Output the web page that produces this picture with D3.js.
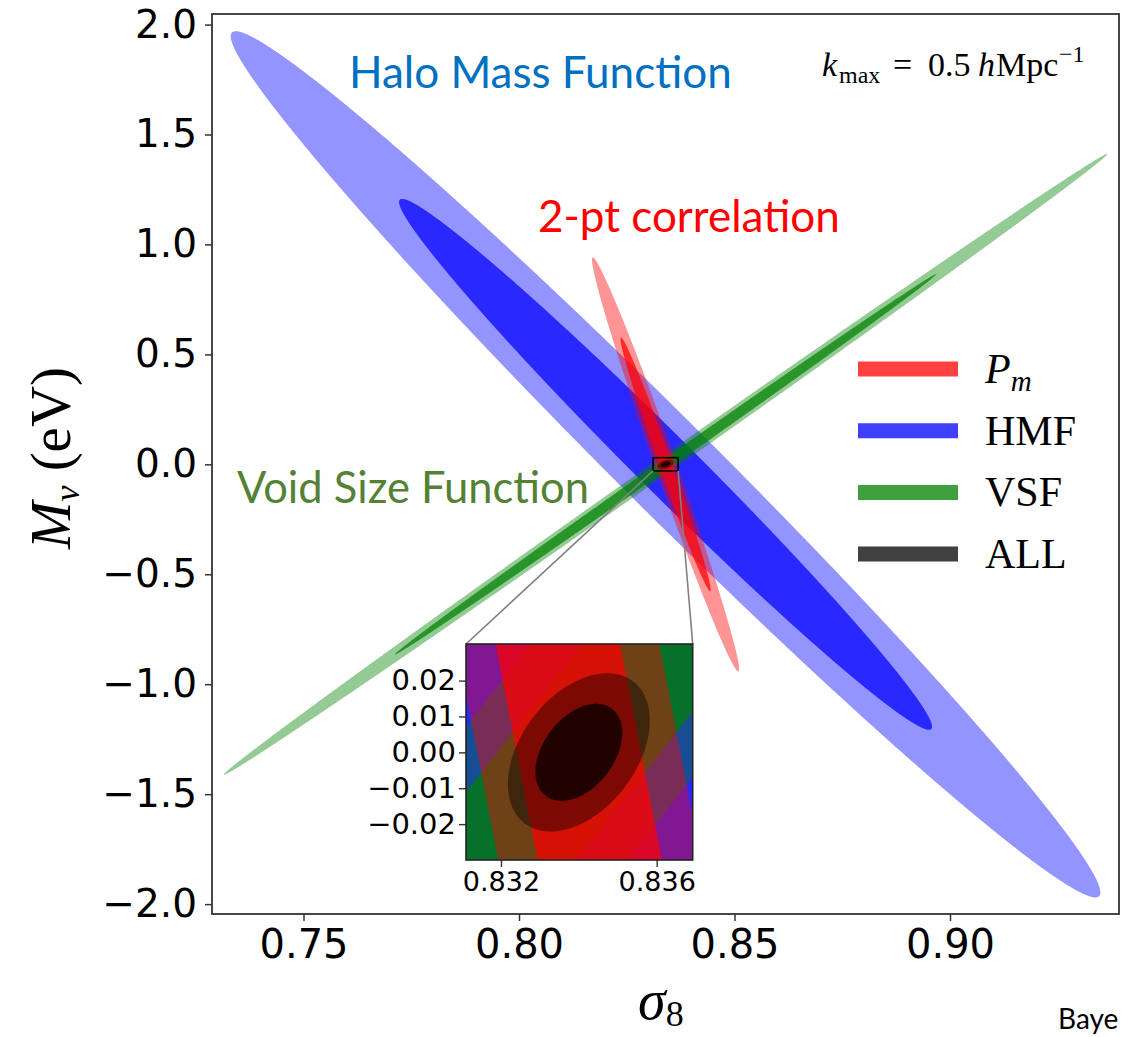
<!DOCTYPE html>
<html>
<head>
<meta charset="utf-8">
<script src="https://cdn.jsdelivr.net/npm/d3@7"></script>
<style>
body { margin: 0; background: #fff; }
svg text { fill: #000; }
</style>
</head>
<body>
<svg id="svg_fig" width="1128" height="1037"></svg>
<script>
// fiducial cosmology (sigma8, Mnu) and Fisher errors
var fiducial = [0.834, 0.0];
var probes = ["HMF", "VSF", "Pm", "ALL"];          // drawing order
var probeColors = ["#0000ff", "#008000", "#ff0000", "#000000"];
var sigmaS8 = [0.04068, 0.04133, 0.006882, 0.000735];
var sigmaMnu = [0.7942, 0.5693, 0.37976, 0.0089];
var rho = [-0.9883, 0.99944, -0.98825, 0.40];
var contourRadius = [2.48, 1.52];                 // 2 sigma, 1 sigma
var contourAlpha = [0.42, 0.72];

var legendProbes = ["Pm", "HMF", "VSF", "ALL"];
var legendNames = ["P", "HMF", "VSF", "ALL"];

var xTicks = [0.75, 0.80, 0.85, 0.90];
var yTicks = [-2.0, -1.5, -1.0, -0.5, 0.0, 0.5, 1.0, 1.5, 2.0];
var insetXTicks = [0.832, 0.836];
var insetYTicks = [-0.02, -0.01, 0.00, 0.01, 0.02];
var insetXRange = [0.831101, 0.836925];
var insetYRange = [-0.0300, 0.0302];

var svg = d3.select("#svg_fig");

var x = d3.scaleLinear().domain([0.72877, 0.93921]).range([212, 1119]),
	y = d3.scaleLinear().domain([-2.045, 2.048]).range([914, 14]);
var ix = d3.scaleLinear().domain(insetXRange).range([466, 692.7]),
	iy = d3.scaleLinear().domain(insetYRange).range([860, 644]);

function ellipsePoints(i, k) {
	var pts = [], n = 2400;
	var c = Math.sqrt(1 - rho[i] * rho[i]);
	for (var j = 0; j <= n; j++) {
		var t = 2 * Math.PI * j / n;
		var u = k * Math.cos(t), v = k * Math.sin(t);
		pts.push([fiducial[0] + sigmaS8[i] * u, fiducial[1] + sigmaMnu[i] * (rho[i] * u + c * v)]);
	}
	return pts;
}

function drawContours(g, sx, sy) {
	var line = d3.line().x(function(d) { return sx(d[0]); }).y(function(d) { return sy(d[1]); });
	probes.forEach(function(p, i) {
		contourRadius.forEach(function(k, j) {
			g.append("path")
				.attr("d", line(ellipsePoints(i, k)) + "Z")
				.attr("fill", probeColors[i])
				.attr("fill-opacity", contourAlpha[j])
				.attr("stroke", "none")
				.attr("class", "contour_" + p);
		});
	});
}

var defs = svg.append("defs");
defs.append("clipPath").attr("id", "clip_main").append("rect")
	.attr("x", 212).attr("y", 14).attr("width", 1119 - 212).attr("height", 914 - 14);
defs.append("clipPath").attr("id", "clip_inset").append("rect")
	.attr("x", 466).attr("y", 644).attr("width", 692.7 - 466).attr("height", 860 - 644);

// main panel
var g_main = svg.append("g").attr("clip-path", "url(#clip_main)");
drawContours(g_main, x, y);

// zoom box + connectors
svg.append("rect")
	.attr("x", x(insetXRange[0])).attr("y", y(insetYRange[1]))
	.attr("width", x(insetXRange[1]) - x(insetXRange[0]))
	.attr("height", y(insetYRange[0]) - y(insetYRange[1]))
	.attr("fill", "none").attr("stroke", "#000").attr("stroke-width", 1.6);
svg.append("line")
	.attr("x1", x(insetXRange[0])).attr("y1", y(insetYRange[0]))
	.attr("x2", ix(insetXRange[0])).attr("y2", iy(insetYRange[1]))
	.attr("stroke", "#808080").attr("stroke-width", 1.6);
svg.append("line")
	.attr("x1", x(insetXRange[1])).attr("y1", y(insetYRange[0]))
	.attr("x2", ix(insetXRange[1])).attr("y2", iy(insetYRange[1]))
	.attr("stroke", "#808080").attr("stroke-width", 1.6);

// axes
var fmt1 = d3.format(".1f"), fmt2 = d3.format(".2f");
var xAxis = svg.append("g").attr("transform", "translate(0,914)")
	.call(d3.axisBottom(x).tickValues(xTicks).tickFormat(fmt2).tickSize(7).tickPadding(9));
var yAxis = svg.append("g").attr("transform", "translate(212,0)")
	.call(d3.axisLeft(y).tickValues(yTicks).tickFormat(fmt1).tickSize(7).tickPadding(8));
[xAxis, yAxis].forEach(function(a) {
	a.select(".domain").remove();
	a.selectAll(".tick line").attr("stroke", "#333").attr("stroke-width", 1.5);
	a.selectAll(".tick text").attr("font-family", "DejaVu Sans").attr("font-size", 39).attr("fill", "#000");
});
xAxis.selectAll(".tick text").attr("font-size", 40);
svg.append("rect").attr("x", 212).attr("y", 14).attr("width", 1119 - 212).attr("height", 900)
	.attr("fill", "none").attr("stroke", "#333").attr("stroke-width", 1.8);

// inset
svg.append("rect").attr("x", 466).attr("y", 644).attr("width", 692.7 - 466).attr("height", 216).attr("fill", "#fff");
var g_inset = svg.append("g").attr("clip-path", "url(#clip_inset)");
drawContours(g_inset, ix, iy);
var ixAxis = svg.append("g").attr("transform", "translate(0,860)")
	.call(d3.axisBottom(ix).tickValues(insetXTicks).tickFormat(d3.format(".3f")).tickSize(7).tickPadding(5));
var iyAxis = svg.append("g").attr("transform", "translate(466,0)")
	.call(d3.axisLeft(iy).tickValues(insetYTicks).tickFormat(fmt2).tickSize(7).tickPadding(3));
[ixAxis, iyAxis].forEach(function(a) {
	a.select(".domain").remove();
	a.selectAll(".tick line").attr("stroke", "#333").attr("stroke-width", 1.4);
	a.selectAll(".tick text").attr("font-family", "DejaVu Sans").attr("font-size", 29).attr("fill", "#000");
});
ixAxis.selectAll(".tick text").attr("font-size", 27);
svg.append("rect").attr("x", 466).attr("y", 644).attr("width", 692.7 - 466).attr("height", 216)
	.attr("fill", "none").attr("stroke", "#222").attr("stroke-width", 1.6);

// legend
var legend = svg.append("g");
legendProbes.forEach(function(p, i) {
	var ci = probes.indexOf(p), ly = 369 + i * 61.7;
	legend.append("line")
		.attr("x1", 858).attr("x2", 958).attr("y1", ly).attr("y2", ly)
		.attr("stroke", probeColors[ci]).attr("stroke-opacity", 0.75).attr("stroke-width", 15);
	var t = legend.append("text")
		.attr("x", 985).attr("y", ly + 14)
		.attr("font-family", "Liberation Serif").attr("font-size", 42);
	if (p == "Pm") {
		t.append("tspan").attr("font-style", "italic").text(legendNames[i]);
		t.append("tspan").attr("font-style", "italic").attr("font-size", 29).attr("dy", 8).text("m");
	} else {
		t.text(legendNames[i]);
	}
});

// axis labels
var xl = svg.append("text").attr("x", 638).attr("y", 1019)
	.attr("font-family", "Liberation Serif").attr("font-size", 56);
xl.append("tspan").attr("font-style", "italic").text("σ");
xl.append("tspan").attr("font-size", 36).attr("dy", 7).text("8");

var yl = svg.append("text").attr("transform", "translate(70,458) rotate(-90)")
	.attr("text-anchor", "middle")
	.attr("font-family", "Liberation Serif").attr("font-size", 57);
yl.append("tspan").attr("font-style", "italic").text("M");
yl.append("tspan").attr("font-style", "italic").attr("font-size", 36).attr("dy", 9).text("ν");
yl.append("tspan").attr("dy", -9).text(" (eV)");

// k_max note, pieces placed as in the LaTeX rendering
var kt = svg.append("text").attr("y", 76)
	.attr("font-family", "Liberation Serif").attr("font-size", 34);
kt.append("tspan").attr("x", 822).attr("font-style", "italic").text("k");
kt.append("tspan").attr("x", 839).attr("font-size", 24).attr("dy", 7).text("max");
kt.append("tspan").attr("x", 893).attr("dy", -7).text("=");
kt.append("tspan").attr("x", 928).text("0.5");
kt.append("tspan").attr("x", 978).attr("font-style", "italic").text("h");
kt.append("tspan").attr("x", 996).text("Mpc");
kt.append("tspan").attr("x", 1059).attr("font-size", 24).attr("dy", -14).text("−1");

// slide annotations
svg.append("text").attr("x", 349).attr("y", 88)
	.attr("font-family", "Lato").attr("font-size", 44).style("fill", "#0070c0")
	.text("Halo Mass Function");
svg.append("text").attr("x", 538).attr("y", 232)
	.attr("font-family", "Lato").attr("font-size", 44).style("fill", "#ff0000")
	.text("2-pt correlation");
svg.append("text").attr("x", 237).attr("y", 503)
	.attr("font-family", "Lato").attr("font-size", 43.5).style("fill", "#548235")
	.text("Void Size Function");
svg.append("text").attr("x", 1058).attr("y", 1029)
	.attr("font-family", "Lato").attr("font-size", 28)
	.text("Baye");
</script>
</body>
</html>
